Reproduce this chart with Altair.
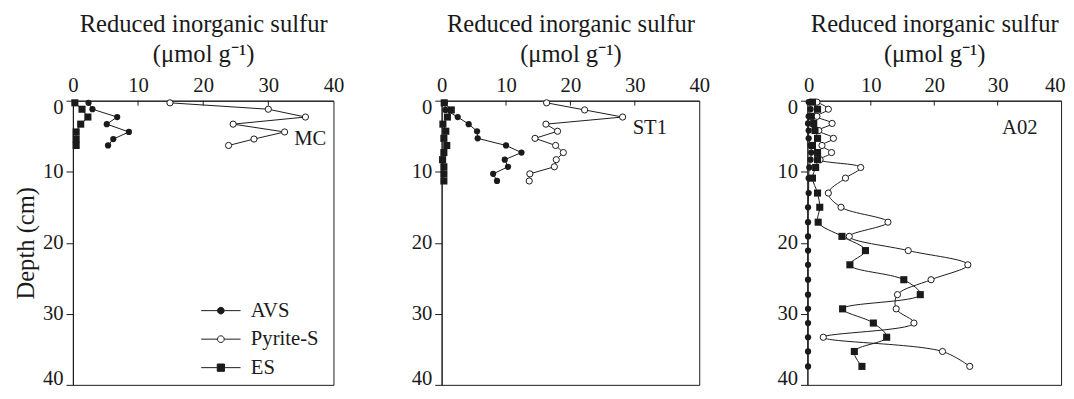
import altair as alt
import pandas as pd

# ---------------- data ----------------
series_names = ["AVS", "Pyrite-S", "ES"]
x_ticks = [0, 10, 20, 30, 40]
y_ticks = [0, 10, 20, 30, 40]
inner_ticks = [10, 20, 30]

mc_depth = [0.3, 1.2, 2.3, 3.3, 4.4, 5.4, 6.3]
mc_avs = [2.4, 3.0, 6.8, 5.2, 8.6, 6.2, 5.4]
mc_pyr = [14.9, 30.0, 35.7, 24.6, 32.5, 27.8, 23.9]
mc_es = [0.3, 1.4, 2.3, 1.2, 0.5, 0.5, 0.5]

st_depth = [0.3, 1.3, 2.3, 3.3, 4.3, 5.3, 6.3, 7.3, 8.3, 9.3, 10.3, 11.3]
st_avs = [0.5, 0.6, 2.5, 4.2, 5.5, 5.6, 10.0, 12.4, 9.8, 10.3, 8.0, 8.6]
st_pyr = [16.3, 22.2, 28.1, 16.2, 18.0, 14.5, 17.7, 18.9, 17.8, 17.5, 13.7, 13.6]
st_es = [0.4, 1.5, 0.9, 0.2, 0.65, 0.35, 0.8, 0.35, 0.15, 0.35, 0.35, 0.35]

a02_depth = [0.2, 1.2, 2.2, 3.2, 4.2, 5.3, 6.3, 7.3, 8.3, 9.4, 10.9, 13.0,
             15.0, 17.1, 19.1, 21.1, 23.1, 25.2, 27.3, 29.3, 31.3, 33.3, 35.3, 37.4]
a02_avs = [0.2, 0.5, 0.2, 0.1, 0.2, 0.2, 0.5, 0.6, 0.5, 0.3, 0.2, 0.2,
           0.1, 0.1, 0.1, 0.1, 0.1, 0.1, 0.1, 0.1, 0.1, 0.1, 0.1, 0.1]
a02_pyr = [1.5, 3.3, 1.5, 3.9, 1.8, 4.1, 2.3, 3.8, 2.0, 8.4, 6.0, 3.3,
           5.3, 12.7, 6.6, 15.9, 25.3, 19.5, 14.2, 14.0, 16.8, 2.5, 21.3, 25.6]
a02_es = [0.8, 1.6, 0.6, 1.0, 1.2, 1.6, 0.8, 1.6, 1.6, 1.3, 0.8, 1.6,
          1.95, 1.7, 5.45, 9.15, 6.7, 15.2, 17.8, 5.55, 10.4, 12.5, 7.4, 8.6]

site_labels = ["MC", "ST1", "A02"]

FONT = "Liberation Serif"
INK = "#1a1a1a"
H = 289

# legend glyphs: a short line with the marker in its middle
legend_paths = [
    "M-1.43,0H-0.243M0.243,0H1.43M-0.243,0A0.243,0.243,0,1,1,0.243,0A0.243,0.243,0,1,1,-0.243,0Z",
    "M-1.43,0H-0.243M0.243,0H1.43M-0.243,0A0.243,0.243,0,1,1,0.243,0A0.243,0.243,0,1,1,-0.243,0Z",
    "M-1.43,0H-0.264M0.264,0H1.43M-0.264,-0.264H0.264V0.264H-0.264Z",
]


def long_frame(depth, avs, pyr, es):
    rows = []
    for name, vals in zip(series_names, [avs, pyr, es]):
        for d, v in zip(depth, vals):
            rows.append({"series": name, "depth": d, "value": v})
    return pd.DataFrame(rows)


def legend_def():
    return alt.Legend(title=None, orient="none", legendX=136, legendY=199,
                      symbolSize=784, symbolStrokeWidth=1,
                      labelFont=FONT, labelFontSize=21, labelColor=INK,
                      labelOffset=16, rowPadding=4, padding=0)


def panel(depth, avs, pyr, es, curve, label, lab_x, lab_y, first, width, last=False):
    df = long_frame(depth, avs, pyr, es)
    if last:
        xaxis = alt.Axis(
            orient="top", values=x_ticks, tickSize=0, labelPadding=5,
            title=["Reduced inorganic sulfur", "(\u03bcmol g\u207b\u00b9)"],
            titlePadding=9, titleLineHeight=30, labelFlush=True, labelFlushOffset=4,
            grid=False)
    else:
        xaxis = alt.Axis(
            orient="top", values=x_ticks, tickSize=0, labelPadding=5,
            title=["Reduced inorganic sulfur", "(\u03bcmol g\u207b\u00b9)"],
            titlePadding=9, titleLineHeight=30, labelFlush=False, grid=False)
    x = alt.X("value:Q", scale=alt.Scale(domain=[0, 40], nice=False, zero=False), axis=xaxis)
    yaxis = alt.Axis(values=y_ticks, tickSize=7, labelPadding=3,
                     labelFlush=True, labelFlushOffset=4, grid=False, titlePadding=4)
    ysc = alt.Scale(domain=[0, 40], reverse=True, nice=False)
    if first:
        y = alt.Y("depth:Q", scale=ysc, axis=yaxis, title="Depth (cm)")
    else:
        y = alt.Y("depth:Q", scale=ysc, axis=yaxis, title=None)

    base = alt.Chart(df).encode(x=x, y=y)
    lines = base.mark_line(color=INK, strokeWidth=1, interpolate=curve).encode(
        detail="series:N", order="depth:Q")
    avs_pts = base.transform_filter(alt.datum.series == "AVS").mark_point(
        shape="circle", filled=True, size=40, color=INK, opacity=1)
    pyr_pts = base.transform_filter(alt.datum.series == "Pyrite-S").mark_point(
        shape="circle", fill="white", stroke=INK, strokeWidth=1, size=40, opacity=1)
    es_pts = base.transform_filter(alt.datum.series == "ES").mark_point(
        shape="square", filled=True, size=52, color=INK, opacity=1)

    ticks = alt.Chart(pd.DataFrame({"t": inner_ticks})).mark_rule(
        color=INK, strokeWidth=1).encode(
        x=alt.X("t:Q", scale=alt.Scale(domain=[0, 40], nice=False, zero=False)),
        y=alt.value(0), y2=alt.value(5))

    text = alt.Chart(pd.DataFrame({"lab": [label], "x": [lab_x], "y": [lab_y]})).mark_text(
        font=FONT, fontSize=21, align="right", baseline="middle", color=INK).encode(
        x=alt.X("x:Q"), y=alt.Y("y:Q"), text="lab:N")

    layers = [lines, avs_pts, pyr_pts, es_pts, ticks, text]

    if first:
        leg = alt.Chart(df).transform_filter("false").mark_point(
            strokeWidth=1, size=784, opacity=1).encode(
            x="value:Q", y="depth:Q",
            shape=alt.Shape("series:N",
                            scale=alt.Scale(domain=series_names, range=legend_paths),
                            legend=legend_def()),
            fill=alt.Fill("series:N",
                          scale=alt.Scale(domain=series_names, range=[INK, "white", INK]),
                          legend=legend_def()),
            stroke=alt.Stroke("series:N",
                              scale=alt.Scale(domain=series_names, range=[INK, INK, INK]),
                              legend=legend_def()),
        )
        layers.append(leg)

    return alt.layer(*layers).properties(width=width, height=H)


p1 = panel(mc_depth, mc_avs, mc_pyr, mc_es, "linear", site_labels[0], 38.9, 5.4, True, 265)
p2 = panel(st_depth, st_avs, st_pyr, st_es, "linear", site_labels[1], 35.0, 3.8, False, 262)
p3 = panel(a02_depth, a02_avs, a02_pyr, a02_es, "catmull-rom", site_labels[2], 36.3, 3.8,
           False, 258, last=True)

chart = alt.hconcat(p1, p2, p3, spacing=67).resolve_scale(
    shape="independent", fill="independent", stroke="independent"
).resolve_legend(
    shape="independent", fill="independent", stroke="independent"
).properties(
    padding={"left": 5, "right": 0, "top": 0, "bottom": 0}
).configure_view(
    stroke=INK, strokeWidth=1
).configure_axis(
    labelFont=FONT, labelFontSize=21, labelColor=INK,
    titleFont=FONT, titleFontSize=25, titleFontWeight="normal", titleColor=INK,
    domainColor=INK, tickColor=INK, domainWidth=1, tickWidth=1,
)

chart.save("out.html", embed_options={"renderer": "svg", "actions": False})
